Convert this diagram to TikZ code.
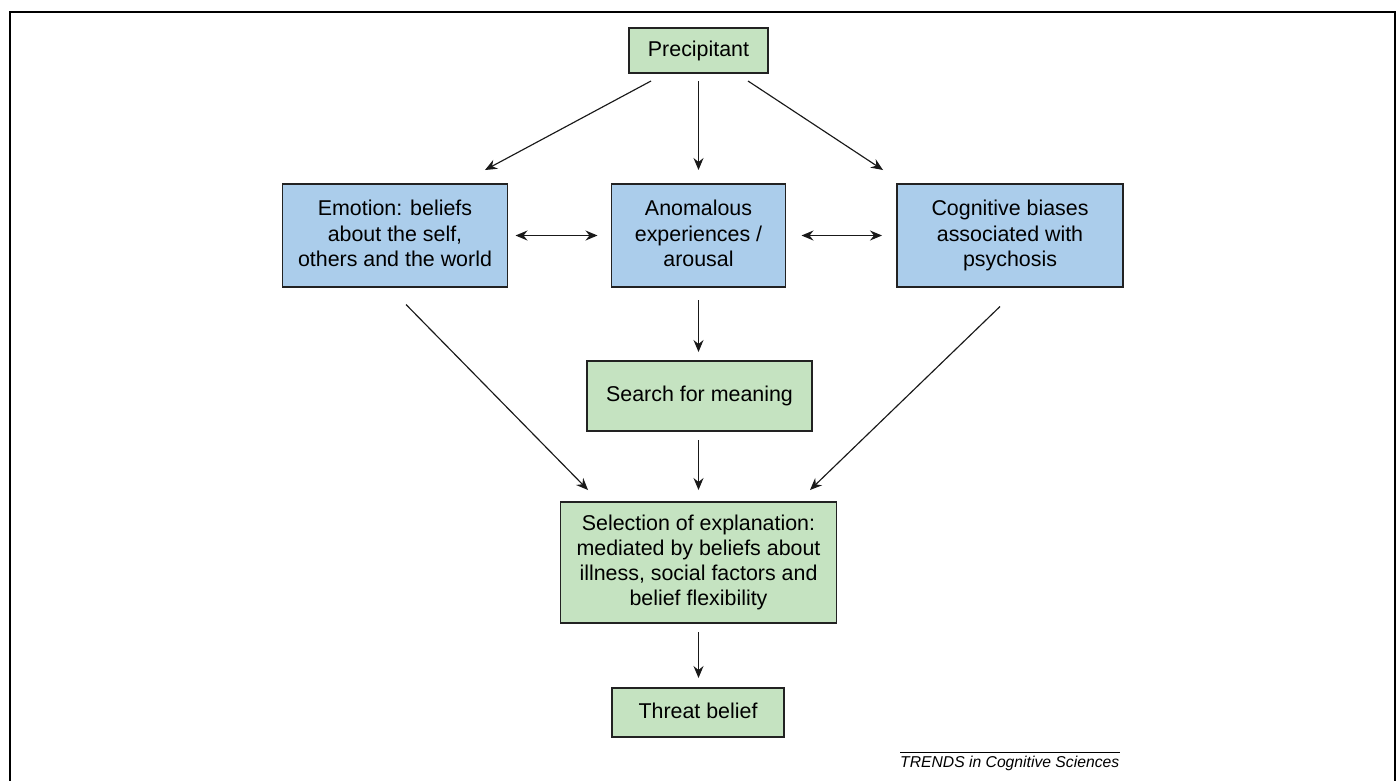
\documentclass[tikz,border=0pt]{standalone}
\usepackage{fontspec}
\setmainfont{Liberation Sans}
\usetikzlibrary{arrows.meta}
\definecolor{boxgreen}{HTML}{C5E3C1}
\definecolor{boxblue}{HTML}{ABCDEB}
\definecolor{edge}{HTML}{222222}
\newcommand{\tstrut}{\rule[-4pt]{0pt}{17.7pt}}
\begin{document}
\begin{tikzpicture}[x=1pt,y=-1pt,
  box/.style={draw=edge,line width=1.4pt,inner sep=0pt,outer sep=0pt,align=center,
    font=\fontsize{21.4}{25.3}\selectfont},
  gbox/.style={box,fill=boxgreen},
  bbox/.style={box,fill=boxblue},
  arr/.style={line width=1.15pt,draw=black!90,-{Stealth[length=12pt,width=10pt,inset=4pt]}},
  darr/.style={line width=1.15pt,draw=black!90,{Stealth[length=12pt,width=10pt,inset=4pt]}-{Stealth[length=12pt,width=10pt,inset=4pt]}}]
\useasboundingbox (0,0) rectangle (1396,780);
\fill[white] (0,0) rectangle (1396,780);
\draw[line width=2pt] (10,781) -- (10,12) -- (1394.5,12) -- (1394.5,781);

\node[gbox,minimum width=139pt,minimum height=45pt] (prec) at (698.5,50.5) {\tstrut Precipitant};
\node[bbox,minimum width=225pt,minimum height=103pt] (emo) at (395,235.5) {\tstrut Emotion: beliefs\\about the self,\\\tstrut others and the world};
\node[bbox,minimum width=174pt,minimum height=103pt] (anom) at (698.5,235.5) {\tstrut Anomalous\\experiences /\\\tstrut arousal};
\node[bbox,minimum width=226pt,minimum height=103pt] (cog) at (1010,235.5) {\tstrut Cognitive biases\\associated with\\\tstrut psychosis};
\node[gbox,minimum width=225pt,minimum height=70pt] (search) at (699.5,396) {\tstrut Search for meaning};
\node[gbox,minimum width=276pt,minimum height=121pt] (sel) at (698.5,562.5) {\tstrut Selection of explanation:\\mediated by beliefs about\\illness, social factors and\\\tstrut belief flexibility};
\node[gbox,minimum width=172pt,minimum height=49pt] (threat) at (698,712.5) {\tstrut Threat belief};

\draw[arr] ([xshift=-47.5pt,yshift=-8pt]prec.south) -- ([xshift=90pt,yshift=14pt]emo.north);
\draw[arr] ([yshift=-8pt]prec.south) -- ([yshift=14pt]anom.north);
\draw[arr] ([xshift=49.5pt,yshift=-8pt]prec.south) -- ([xshift=-127pt,yshift=14pt]cog.north);
\draw[darr] ([xshift=8pt]emo.east) -- ([xshift=-14pt]anom.west);
\draw[darr] ([xshift=16pt]anom.east) -- ([xshift=-15pt]cog.west);
\draw[arr] ([yshift=-13pt]anom.south) -- ([xshift=-1pt,yshift=9pt]search.north);
\draw[arr] ([xshift=11pt,yshift=-17.5pt]emo.south) -- ([xshift=-110.5pt,yshift=12pt]sel.north);
\draw[arr] ([xshift=-1pt,yshift=-9pt]search.south) -- ([yshift=12pt]sel.north);
\draw[arr] ([xshift=-10pt,yshift=-19.5pt]cog.south) -- ([xshift=111.5pt,yshift=12pt]sel.north);
\draw[arr] ([yshift=-9pt]sel.south) -- ([xshift=0.5pt,yshift=10pt]threat.north);

\node[anchor=base west,inner sep=0pt,font=\fontsize{15.7}{18}\selectfont\itshape] (footer) at (900,767) {TRENDS in Cognitive Sciences};
\draw[line width=1pt] ([yshift=15pt]footer.base west) -- ([xshift=220pt,yshift=15pt]footer.base west);
\end{tikzpicture}
\end{document}
